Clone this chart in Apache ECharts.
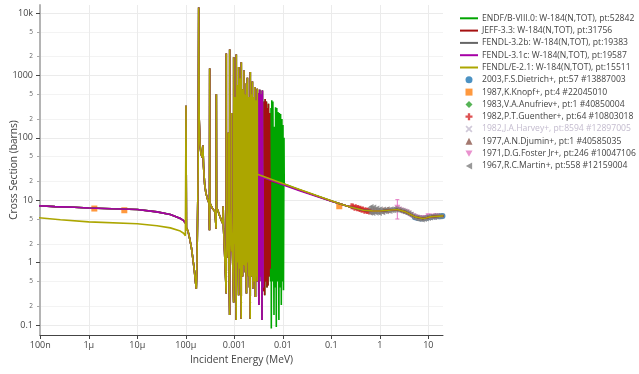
<!DOCTYPE html>
<html>
<head>
<meta charset="utf-8">
<script src="https://cdn.jsdelivr.net/npm/echarts@6/dist/echarts.min.js"></script>
<style>
  html, body { margin: 0; padding: 0; background: #fff; }
  #chart { width: 639px; height: 374px; }
</style>
</head>
<body>
<div id="chart"></div>
<script>
// ---- Axis ticks -------------------------------------------------------
const xTickValues = [1e-7, 1e-6, 1e-5, 1e-4, 1e-3, 1e-2, 0.1, 1, 10];
const xTickLabels = ['100n', '1μ', '10μ', '100μ', '0.001', '0.01', '0.1', '1', '10'];
const yMajorValues = [0.1, 1, 10, 100, 1000, 10000];
const yMajorLabels = ['0.1', '1', '10', '100', '1000', '10k'];
const yMinorValues = [0.2, 0.5, 2, 5, 20, 50, 200, 500, 2000, 5000];
const yMinorLabels = ['2', '5', '2', '5', '2', '5', '2', '5', '2', '5'];

// ---- Evaluated W-184 total cross sections, [energy MeV, barns] --------
// thermal / epithermal part shared by ENDF/B-VIII.0, JEFF-3.3, FENDL-3.x
const thermalEval = [
  [9e-8, 8.15], [2e-7, 7.9], [5e-7, 7.7], [1e-6, 7.5], [3e-6, 7.3], [1e-5, 7.1],
  [2.55e-5, 6.5], [4.8e-5, 5.9], [6.5e-5, 5.4], [7.7e-5, 5.1], [9.0e-5, 4.7],
  [9.8e-5, 4.4], [1.0e-4, 4.25]
];
const thermalFendlE21 = [
  [9e-8, 5.25], [2.6e-7, 4.85], [1e-6, 4.5], [1e-5, 4.2], [2.55e-5, 3.9],
  [4.8e-5, 3.6], [7.7e-5, 3.2], [9.0e-5, 2.95], [9.8e-5, 2.7], [1.0e-4, 2.6]
];
// resolved resonances common to all libraries (up to ~3 keV)
const resolvedLow = [
  [1.01e-4, 326], [1.03e-4, 3.6], [1.11e-4, 3.2], [1.22e-4, 2.3], [1.31e-4, 1.7],
  [1.41e-4, 1.1], [1.50e-4, 0.75], [1.58e-4, 0.5], [1.646e-4, 0.38], [1.70e-4, 1.0],
  [1.80e-4, 30], [1.845e-4, 12300], [1.89e-4, 200], [1.96e-4, 80], [2.06e-4, 55],
  [2.20e-4, 48], [2.26e-4, 75], [2.32e-4, 35], [2.45e-4, 18], [2.6e-4, 13],
  [2.8e-4, 10.5], [3.0e-4, 9.0], [3.08e-4, 3.3], [3.11e-4, 1290], [3.15e-4, 9.0],
  [3.5e-4, 7.5], [4.0e-4, 6.5], [4.22e-4, 3.5], [4.26e-4, 500], [4.31e-4, 7.5],
  [4.6e-4, 6.8], [5.0e-4, 5.6], [5.5e-4, 4.6], [5.8e-4, 4.2], [5.9e-4, 8.0],
  [6.0e-4, 3.5], [6.3e-4, 1.5],
  [6.82e-4, 0.32], [6.84e-4, 2250], [6.86e-4, 6.5],
  [7.47e-4, 1.2], [7.49e-4, 120], [7.51e-4, 6.0],
  [8.02e-4, 0.145], [8.04e-4, 2600], [8.06e-4, 7.0],
  [8.78e-4, 1.5], [8.80e-4, 250], [8.82e-4, 5.5],
  [9.69e-4, 0.23], [9.72e-4, 1960], [9.75e-4, 6.5],
  [1.030e-3, 2.0], [1.033e-3, 450], [1.036e-3, 5.0],
  [1.096e-3, 0.12], [1.099e-3, 2170], [1.102e-3, 7.5],
  [1.167e-3, 1.0], [1.170e-3, 700], [1.173e-3, 5.5],
  [1.230e-3, 0.30], [1.233e-3, 1360], [1.236e-3, 6.5],
  [1.308e-3, 0.8], [1.312e-3, 900], [1.316e-3, 5.0],
  [1.390e-3, 0.126], [1.394e-3, 1630], [1.398e-3, 7.0],
  [1.479e-3, 0.6], [1.483e-3, 600], [1.487e-3, 5.0],
  [1.544e-3, 0.9], [1.548e-3, 300], [1.552e-3, 4.5],
  [1.581e-3, 0.9], [1.585e-3, 1200], [1.589e-3, 6.0],
  [1.681e-3, 0.7], [1.686e-3, 500], [1.691e-3, 4.5],
  [1.780e-3, 0.32], [1.785e-3, 750], [1.790e-3, 5.5],
  [1.857e-3, 1.0], [1.862e-3, 920], [1.867e-3, 6.0],
  [1.976e-3, 0.6], [1.982e-3, 450], [1.988e-3, 4.5],
  [2.062e-3, 0.4], [2.068e-3, 300], [2.074e-3, 4.0],
  [2.131e-3, 0.126], [2.137e-3, 1130], [2.143e-3, 6.5],
  [2.255e-3, 0.6], [2.262e-3, 500], [2.269e-3, 5.0],
  [2.354e-3, 0.9], [2.361e-3, 800], [2.368e-3, 5.5],
  [2.423e-3, 0.385], [2.430e-3, 350], [2.437e-3, 4.5],
  [2.494e-3, 0.5], [2.501e-3, 450], [2.508e-3, 5.0],
  [2.565e-3, 0.7], [2.573e-3, 300], [2.581e-3, 4.0],
  [2.640e-3, 0.5], [2.648e-3, 650], [2.656e-3, 6.0],
  [2.729e-3, 0.28], [2.737e-3, 350], [2.745e-3, 4.5],
  [2.808e-3, 0.6], [2.816e-3, 400], [2.824e-3, 5.0],
  [2.889e-3, 0.8], [2.897e-3, 300], [2.905e-3, 4.5],
  [2.970e-3, 0.5], [2.979e-3, 610]
];
// resonances carried on by FENDL-3.x, JEFF-3.3 and ENDF/B-VIII.0 (3 - 3.9 keV)
const resolvedFendl3 = [
  [3.067e-3, 0.5], [3.140e-3, 520], [3.200e-3, 0.21], [3.340e-3, 590], [3.437e-3, 0.6],
  [3.536e-3, 500], [3.62e-3, 0.5], [3.67e-3, 450], [3.725e-3, 0.12], [3.795e-3, 575],
  [3.905e-3, 0.4]
];
// JEFF-3.3 and ENDF/B-VIII.0 (3.9 - 5.5 keV)
const resolvedJeff = [
  [4.018e-3, 0.35], [4.134e-3, 380], [4.235e-3, 0.30], [4.338e-3, 420], [4.463e-3, 0.5],
  [4.592e-3, 380], [4.725e-3, 0.4], [4.836e-3, 300], [4.950e-3, 0.43], [5.067e-3, 350],
  [5.213e-3, 0.6], [5.336e-3, 250], [5.490e-3, 0.8]
];
// ENDF/B-VIII.0 only (5.5 - 10.6 keV)
const resolvedEndf = [
  [5.600e-3, 0.5], [5.714e-3, 300], [5.795e-3, 0.088], [5.931e-3, 400], [6.102e-3, 0.5],
  [6.245e-3, 380], [6.585e-3, 0.145], [6.744e-3, 150], [6.907e-3, 0.4], [7.107e-3, 310],
  [7.351e-3, 0.093], [7.524e-3, 300], [7.742e-3, 0.5], [7.966e-3, 260], [8.314e-3, 0.12],
  [8.510e-3, 250], [8.756e-3, 0.4], [9.010e-3, 240], [9.317e-3, 0.21], [9.585e-3, 200],
  [9.810e-3, 0.5], [1.009e-2, 160], [1.033e-2, 0.36], [1.059e-2, 100]
];
// smooth (unresolved) continuation of each library up to 100 keV
const tailFendlE21 = [[3.0e-3, 26], [1.0e-2, 18.5], [2.3e-2, 14.7], [0.1, 9.8]];
const tailFendl31 = [[3.95e-3, 23.2], [1.0e-2, 17.7], [2.3e-2, 14.1], [0.1, 9.6]];
const tailFendl32 = [[3.95e-3, 23.5], [1.0e-2, 18.0], [2.3e-2, 14.4], [0.1, 9.7]];
const tailJeff = [[5.55e-3, 20.5], [1.0e-2, 18.0], [2.3e-2, 14.4], [0.1, 9.7]];
const tailEndf = [[1.07e-2, 18.2], [2.3e-2, 14.4], [0.1, 9.7]];
// fast region common to all libraries
const fastRegion = [
  [0.15, 8.8], [0.245, 7.8], [0.46, 6.9], [0.7, 6.75], [1.0, 6.7], [1.5, 6.9],
  [2.3, 7.1], [3.4, 6.5], [4.3, 5.9], [5.4, 5.4], [7.7, 5.1], [9.0, 5.2],
  [11, 5.4], [14, 5.5], [20.5, 5.6]
];

// ---- Measurements (EXFOR) ---------------------------------------------
const dietrich = [[5.3, 5.35], [6.0, 5.2], [7.0, 5.1], [8.0, 5.15], [9.5, 5.25], [11.5, 5.4], [14, 5.5], [17, 5.55], [19.6, 5.6]];
const knopf = [[2.53e-8, 8.5], [1.3e-6, 7.35], [5.4e-6, 6.9], [0.146, 8.0]];
const anufriev = [[2.53e-8, 9.2]];
const guenther = [
  [0.26, 8.0], [0.28, 7.9], [0.30, 7.6], [0.32, 7.7], [0.34, 7.4], [0.36, 7.5],
  [0.38, 7.2], [0.40, 7.3], [0.42, 7.0], [0.45, 7.1], [0.48, 6.8], [0.51, 6.9],
  [0.54, 6.7], [0.57, 6.8], [0.60, 6.6], [0.64, 6.7], [0.68, 6.6], [0.75, 6.7],
  [0.85, 6.8], [1.0, 6.7], [1.2, 6.8], [1.5, 6.9]
];
const harvey = [[1.0e-3, 9.0], [2.0e-3, 8.0], [5.0e-3, 12.0], [1.0e-2, 15.0], [5.0e-2, 11.0]];
const djumin = [[2.53e-8, 9.0]];
const fosterEnergy = [2.3, 2.5, 2.8, 3.1, 3.5, 3.9, 4.4, 5.0, 5.6, 6.3, 7.1, 8.0, 9.0, 10.0, 11.2, 12.5, 14.0, 15.0];
const fosterCs = [7.6, 7.0, 6.8, 6.6, 6.4, 6.1, 5.8, 5.5, 5.3, 5.2, 5.1, 5.1, 5.2, 5.5, 5.4, 5.45, 5.5, 5.5];
const fosterErr = [2.6, 0.25, 0.2, 0.2, 0.2, 0.2, 0.2, 0.15, 0.15, 0.15, 0.15, 0.15, 0.15, 0.5, 0.15, 0.2, 0.2, 0.2];
const martin = [
  [0.62, 7.6], [0.64, 6.2], [0.66, 7.9], [0.68, 6.4], [0.70, 7.3], [0.72, 6.1],
  [0.75, 7.8], [0.78, 6.5], [0.81, 7.1], [0.84, 6.2], [0.87, 7.5], [0.90, 6.4],
  [0.94, 7.0], [0.98, 6.1], [1.02, 7.3], [1.06, 6.5], [1.10, 6.9], [1.15, 6.3],
  [1.20, 7.2], [1.25, 6.6], [1.30, 7.0], [1.36, 6.5], [1.42, 7.3], [1.48, 6.7],
  [1.55, 7.1], [1.62, 6.6], [1.70, 7.3], [1.78, 6.8], [1.86, 7.2], [1.95, 6.8],
  [2.05, 7.4], [2.15, 6.9], [2.25, 7.3], [2.36, 6.9], [2.48, 7.2], [2.60, 6.7],
  [2.73, 7.0], [2.86, 6.5], [3.0, 6.9], [3.15, 6.4], [3.3, 6.7], [3.46, 6.2],
  [3.63, 6.5], [3.8, 6.0], [4.0, 6.3], [4.2, 5.8], [4.4, 6.0], [4.6, 5.5],
  [4.85, 5.7], [5.1, 5.2], [5.35, 5.5], [5.6, 5.0], [5.9, 5.4], [6.2, 4.9],
  [6.5, 5.3], [6.8, 4.9], [7.1, 5.2], [7.5, 4.8], [7.9, 5.3], [8.3, 4.9],
  [8.7, 5.4], [9.1, 5.0], [9.6, 5.5], [10.1, 5.1], [10.6, 5.6], [11.1, 5.2],
  [11.7, 5.6], [12.3, 5.3], [12.9, 5.7], [13.5, 5.3], [14.2, 5.7], [14.9, 5.4],
  [15.6, 5.7], [16.4, 5.4], [17.2, 5.7], [18.0, 5.5], [18.9, 5.6]
];

// ---- Assemble library curves ------------------------------------------
const endf = [].concat(thermalEval, resolvedLow, resolvedFendl3, resolvedJeff, resolvedEndf, tailEndf, fastRegion);
const jeff = [].concat(thermalEval, resolvedLow, resolvedFendl3, resolvedJeff, tailJeff, fastRegion);
const fendl32 = [].concat(thermalEval, resolvedLow, resolvedFendl3, tailFendl32, fastRegion);
const fendl31 = [].concat(thermalEval, resolvedLow, resolvedFendl3, tailFendl31, fastRegion);
const fendlE21 = [].concat(thermalFendlE21, resolvedLow, tailFendlE21, fastRegion);
const foster = fosterEnergy.map((e, i) => [e, fosterCs[i]]);
const fosterBars = fosterEnergy.map((e, i) => [e, fosterCs[i] - fosterErr[i], fosterCs[i] + fosterErr[i]]);

function pickLabel(values, labels) {
  return function (v) {
    let best = 0, bd = Infinity;
    values.forEach((t, i) => {
      const d = Math.abs(Math.log10(v) - Math.log10(t));
      if (d < bd) { bd = d; best = i; }
    });
    return labels[best];
  };
}

const FONT = "'Open Sans', 'DejaVu Sans', sans-serif";
const X_MIN = 9.86e-8, X_MAX = 20.1, Y_MIN = 0.0691, Y_MAX = 13440;

function libLine(name, color, data) {
  return {
    name, type: 'line', data, symbol: 'none', showSymbol: false, z: 3,
    clip: true, smooth: false,
    lineStyle: { color, width: 1.6 }, itemStyle: { color }
  };
}
function points(name, color, data, symbol, size) {
  return {
    name, type: 'scatter', data, symbol, symbolSize: size,
    z: 2, clip: true, itemStyle: { color }
  };
}

// marker shapes
const PLUS = 'path://M2,0h2v2h2v2h-2v2h-2v-2h-2v-2h2z';
const CROSS = 'path://M0,1L1,0L3,2L5,0L6,1L4,3L6,5L5,6L3,4L1,6L0,5L2,3Z';
const TRI_DOWN = 'path://M0,0L10,0L5,9Z';
const TRI_LEFT = 'path://M9,0L9,10L0,5Z';
const LEGEND_LINE = 'path://M0,0H18V2H0Z';

const libNames = [
  'ENDF/B-VIII.0: W-184(N,TOT), pt:52842',
  'JEFF-3.3: W-184(N,TOT), pt:31756',
  'FENDL-3.2b: W-184(N,TOT), pt:19383',
  'FENDL-3.1c: W-184(N,TOT), pt:19587',
  'FENDL/E-2.1: W-184(N,TOT), pt:15511'
];
const expNames = [
  '2003,F.S.Dietrich+, pt:57 #13887003',
  '1987,K.Knopf+, pt:4 #22045010',
  '1983,V.A.Anufriev+, pt:1 #40850004',
  '1982,P.T.Guenther+, pt:64 #10803018',
  '1982,J.A.Harvey+, pt:8594 #12897005',
  '1977,A.N.Djumin+, pt:1 #40585035',
  '1971,D.G.Foster Jr+, pt:246 #10047106',
  '1967,R.C.Martin+, pt:558 #12159004'
];

const LEGEND_TOP = 8.8, ROW = 12.3;
const legendText = { fontSize: 8.6, color: '#444', fontFamily: FONT };

const chart = echarts.init(document.getElementById('chart'));
chart.setOption({
  animation: false,
  backgroundColor: '#fff',
  textStyle: { fontFamily: FONT },
  grid: { left: 40, right: 196, top: 5, bottom: 39, containLabel: false, outerBoundsMode: 'none' },
  legend: [{
    orient: 'vertical', left: 455, top: LEGEND_TOP,
    itemWidth: 18, itemHeight: 7, itemGap: ROW - 9,
    data: libNames.map(n => ({ name: n, icon: LEGEND_LINE })),
    textStyle: Object.assign({ padding: [0, 0, 0, -1] }, legendText)
  }, {
    orient: 'vertical', left: 460.5, top: LEGEND_TOP + ROW * libNames.length,
    itemWidth: 7, itemHeight: 7, itemGap: ROW - 9,
    data: expNames,
    selected: { [expNames[4]]: false },
    inactiveColor: '#c4bccf',
    textStyle: Object.assign({ padding: [0, 0, 0, 4.5] }, legendText)
  }],
  xAxis: {
    type: 'log', min: X_MIN, max: X_MAX,
    name: 'Incident Energy (MeV)', nameLocation: 'middle', nameGap: 20,
    nameMoveOverlap: false,
    nameTextStyle: { fontSize: 10.2, color: '#444', fontFamily: FONT },
    axisLine: { show: true, lineStyle: { color: '#444', width: 1 } },
    axisTick: { show: true, length: 4, lineStyle: { color: '#444' }, customValues: xTickValues },
    axisLabel: { fontSize: 9, color: '#444', margin: 6, customValues: xTickValues,
                 formatter: pickLabel(xTickValues, xTickLabels) },
    splitLine: { show: true, lineStyle: { color: '#ebebeb', width: 1 } },
    minorTick: { show: false }, minorSplitLine: { show: false }
  },
  yAxis: [{
    type: 'log', min: Y_MIN, max: Y_MAX, position: 'left',
    name: 'Cross Section (barns)', nameLocation: 'middle', nameGap: 21,
    nameMoveOverlap: false,
    nameTextStyle: { fontSize: 10.2, color: '#444', fontFamily: FONT },
    axisLine: { show: true, lineStyle: { color: '#b4b4b4', width: 2 } },
    axisTick: { show: true, length: 4, lineStyle: { color: '#444' }, customValues: yMajorValues },
    axisLabel: { fontSize: 9, color: '#444', margin: 7, customValues: yMajorValues,
                 formatter: pickLabel(yMajorValues, yMajorLabels) },
    splitLine: { show: true, lineStyle: { color: '#ebebeb', width: 1 } }
  }, {
    type: 'log', min: Y_MIN, max: Y_MAX, position: 'left', offset: 0,
    axisLine: { show: false },
    axisTick: { show: true, length: 3, lineStyle: { color: '#aaa' }, customValues: yMinorValues },
    axisLabel: { fontSize: 6.5, color: '#666', margin: 7, customValues: yMinorValues,
                 formatter: pickLabel(yMinorValues, yMinorLabels) },
    splitLine: { show: true, lineStyle: { color: '#f3f3f3', width: 1 } }
  }],
  series: [
    libLine(libNames[0], '#00a500', endf),
    libLine(libNames[1], '#a51010', jeff),
    libLine(libNames[2], '#666666', fendl32),
    libLine(libNames[3], '#a600a6', fendl31),
    libLine(libNames[4], '#aca600', fendlE21),
    points(expNames[0], '#1f77b4', dietrich, 'circle', 6),
    points(expNames[1], '#ff7f0e', knopf, 'rect', 6),
    points(expNames[2], '#2ca02c', anufriev, 'diamond', 7),
    points(expNames[3], '#d62728', guenther, PLUS, 6),
    points(expNames[4], '#c5b0d5', harvey, CROSS, 6),
    points(expNames[5], '#8c564b', djumin, 'triangle', 6),
    {
      name: 'foster-errors', type: 'custom', z: 2, clip: true,
      data: fosterBars, encode: { x: 0, y: [1, 2] },
      renderItem: function (params, api) {
        const e = api.value(0);
        const lo = api.coord([e, api.value(1)]);
        const hi = api.coord([e, api.value(2)]);
        const st = { stroke: '#e377c2', lineWidth: 1 };
        return { type: 'group', children: [
          { type: 'line', shape: { x1: lo[0], y1: lo[1], x2: hi[0], y2: hi[1] }, style: st },
          { type: 'line', shape: { x1: lo[0] - 2, y1: lo[1], x2: lo[0] + 2, y2: lo[1] }, style: st },
          { type: 'line', shape: { x1: hi[0] - 2, y1: hi[1], x2: hi[0] + 2, y2: hi[1] }, style: st }
        ] };
      }
    },
    points(expNames[6], '#e377c2', foster, TRI_DOWN, 6),
    points(expNames[7], '#7f7f7f', martin, TRI_LEFT, 5)
  ]
});
</script>
</body>
</html>
